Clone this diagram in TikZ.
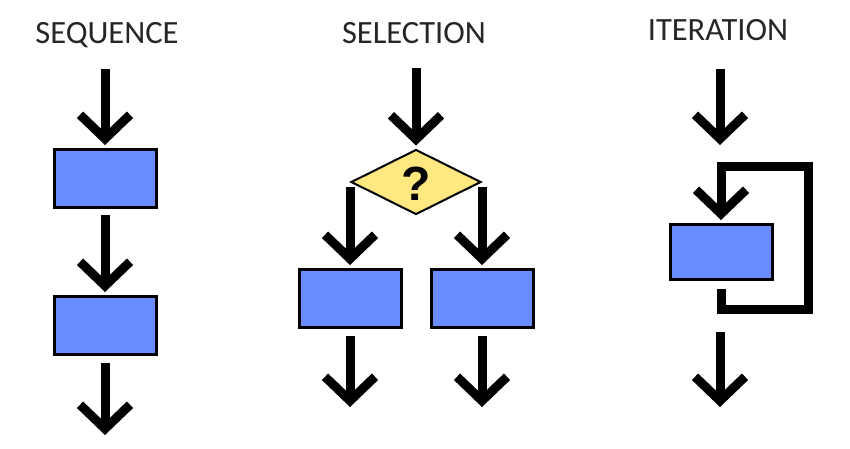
\documentclass[tikz,border=0pt]{standalone}
\usepackage{fontspec}
\setmainfont{Carlito}
\newfontfamily\heavyfont{Liberation Sans}
\usetikzlibrary{arrows.meta, positioning, shapes.geometric}
\definecolor{boxblue}{RGB}{106,140,255}
\definecolor{askyellow}{RGB}{255,232,128}
\tikzset{
	flow/.style={line width=9pt, -{Straight Barb[length=24pt, width=50pt, sharp]}, shorten >=3pt}, % the thick down arrows
	backedge/.style={flow, line join=miter}, % the loop of the iteration
	proc/.style={rectangle, draw, line width=3pt, fill=boxblue, minimum width=102pt, minimum height=58pt, inner sep=0pt}, % a plain step
	ask/.style={diamond, draw, line width=2pt, fill=askyellow, minimum width=130pt, minimum height=65pt, inner sep=0pt}, % the question
	title/.style={font=\fontsize{32.5}{38}\selectfont, text=black!85},
}
\begin{document}
\begin{tikzpicture}[x=1pt, y=-1pt]
	\useasboundingbox (0,0) rectangle (850,448);
	% sequence
	\node[title] (seqt) at (107,35) {SEQUENCE};
	\coordinate (seqin) at (105,69);
	\node[proc] (seq1) at (105,178.5) {};
	\node[proc, below=86pt of seq1] (seq2) {};
	\coordinate (seqout) at (105,438);
	\draw[flow] (seqin) -- (seq1);
	\draw[flow, shorten <=6pt] (seq1) -- (seq2);
	\draw[flow, shorten <=7pt] (seq2) -- (seqout);
	% selection
	\node[title] (selt) at (414,33) {SELECTION};
	\coordinate (selin) at (416,68);
	\node[ask] (q) at (416,182) {};
	\node[font=\heavyfont\fontsize{48}{48}\selectfont\bfseries] (qmark) at (416,184) {?};
	\node[proc, below=86pt of q.west] (selL) {};
	\node[proc, below=86pt of q.east] (selR) {};
	\coordinate (selLout) at (350,410);
	\coordinate (selRout) at (482,410);
	\draw[flow] (selin) -- (q);
	\draw[flow, shorten <=5pt] (q.west) -- (selL);
	\draw[flow, shorten <=5pt] (q.east) -- (selR);
	\draw[flow, shorten <=7pt] (selL) -- (selLout);
	\draw[flow, shorten <=7pt] (selR) -- (selRout);
	% iteration
	\node[title] (itt) at (718,30) {ITERATION};
	\coordinate (itin) at (720,69);
	\coordinate (itgap) at (720,148);
	\node[proc, minimum height=55pt] (itbox) at (721,252) {};
	\coordinate (itcorner) at (808,309);
	\coordinate (ittop) at (808,166);
	\coordinate (itexit) at (720,332);
	\coordinate (itout) at (720,410);
	\draw[flow] (itin) -- (itgap);
	\draw[backedge, shorten <=8pt] (itbox.south) |- (itcorner) -- (ittop) -| (itbox.north);
	\draw[flow] (itexit) -- (itout);
\end{tikzpicture}
\end{document}
